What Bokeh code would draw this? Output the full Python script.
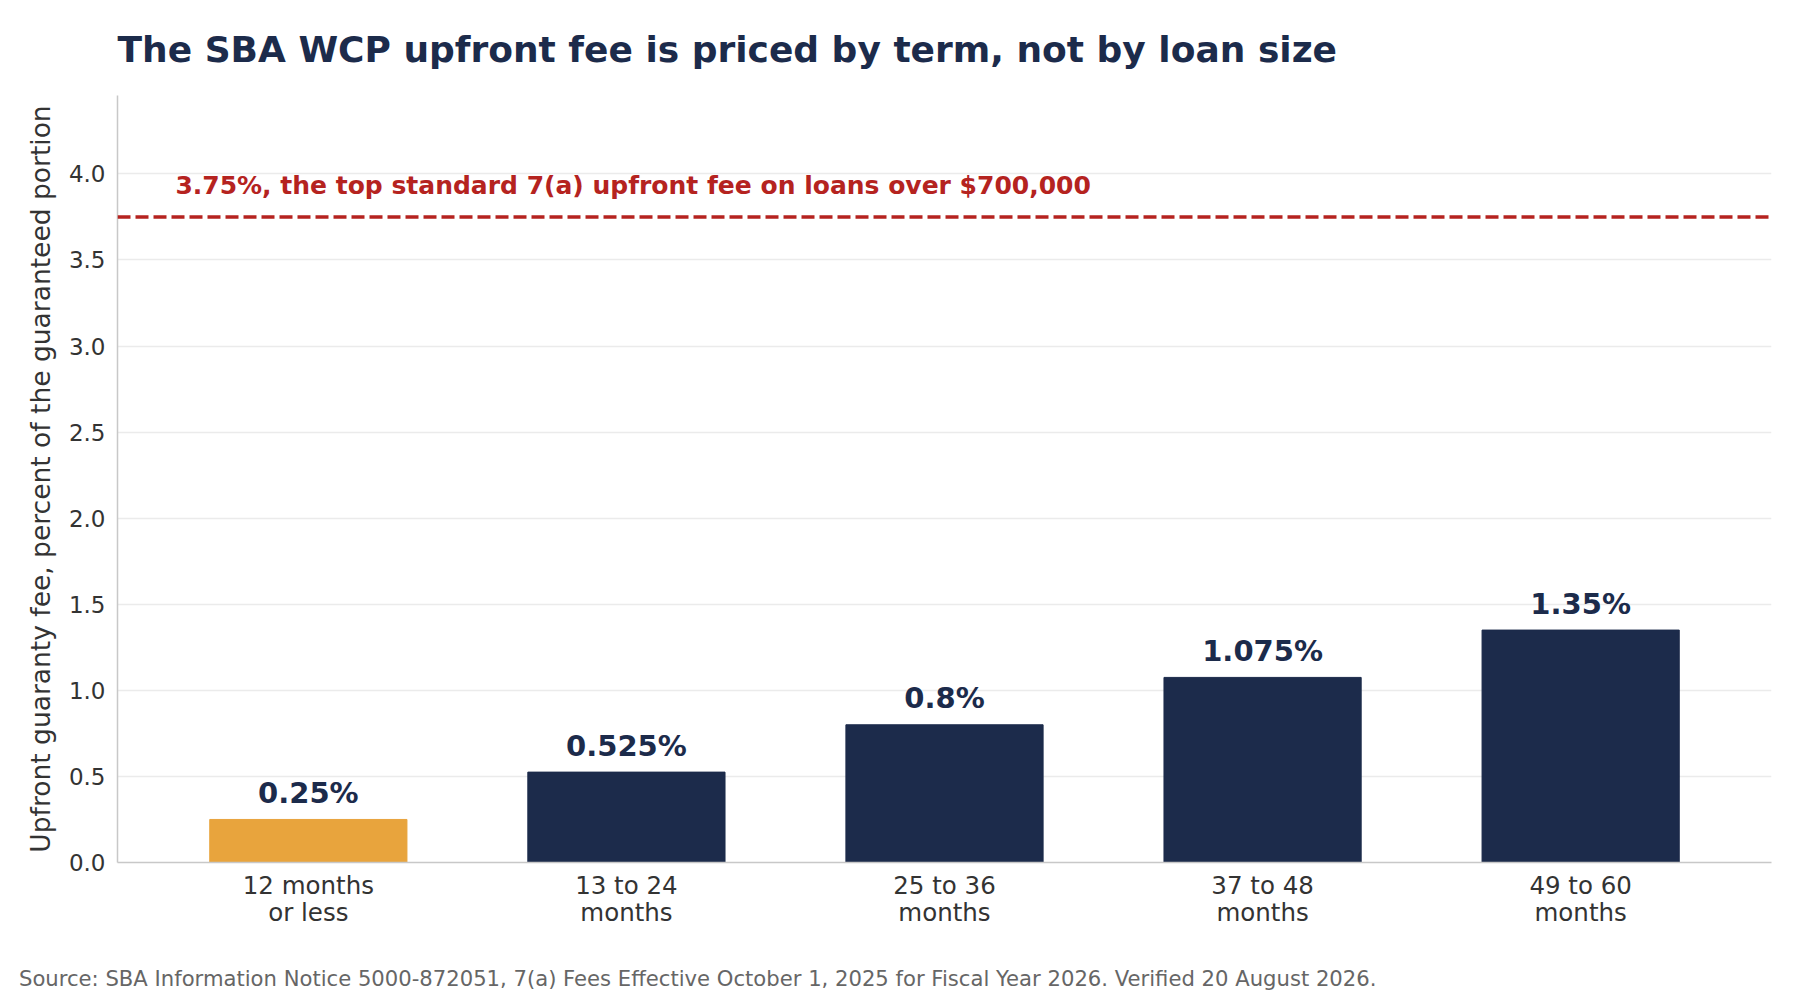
from bokeh.plotting import figure
from bokeh.layouts import column
from bokeh.models import ColumnDataSource, FixedTicker, Span, Label, Range1d, NumeralTickFormatter, Div
from bokeh.embed import file_html
from bokeh.resources import INLINE
from bokeh.core.properties import value

# ---- data ----
categories = ["12 months\nor less", "13 to 24\nmonths", "25 to 36\nmonths", "37 to 48\nmonths", "49 to 60\nmonths"]
fees = [0.25, 0.525, 0.8, 1.075, 1.35]
highlight_index = 0
ref_value = 3.75
ref_text = "3.75%, the top standard 7(a) upfront fee on loans over $700,000"
title_text = "The SBA WCP upfront fee is priced by term, not by loan size"
y_label = "Upfront guaranty fee, percent of the guaranteed portion"
source_text = ("Source: SBA Information Notice 5000-872051, 7(a) Fees Effective October 1, 2025 "
               "for Fiscal Year 2026. Verified 20 August 2026.")
y_ticks = [0.0, 0.5, 1.0, 1.5, 2.0, 2.5, 3.0, 3.5, 4.0]

NAVY = "#1c2b4b"
ORANGE = "#e8a43d"
RED = "#b5231f"
FONT = "DejaVu Sans"

xs = list(range(len(categories)))
colors = [ORANGE if i == highlight_index else NAVY for i in xs]
labels = [f"{v:g}%" for v in fees]
src = ColumnDataSource(dict(x=xs, top=fees, color=colors, label=labels))

W, H = 1784, 930
p = figure(width=W, height=H,
           x_range=Range1d(-0.6, len(categories) - 0.4),
           y_range=Range1d(0, 4.455),
           output_backend="svg", toolbar_location=None,
           min_border_left=117, min_border_right=13,
           min_border_top=95, min_border_bottom=68)

p.title.text = title_text
p.title.text_font = FONT
p.title.text_font_size = "36px"
p.title.text_font_style = "bold"
p.title.text_color = NAVY
p.title.align = "left"
p.title.vertical_align = "middle"
p.title.text_line_height = 1.3
p.title.standoff = 50

p.outline_line_color = None
p.background_fill_color = "white"
p.border_fill_color = "white"

# grid
p.xgrid.visible = False
p.ygrid.grid_line_color = "#ebebeb"
p.ygrid.grid_line_width = 1.5

# y axis
p.yaxis.ticker = FixedTicker(ticks=y_ticks)
p.yaxis.formatter = NumeralTickFormatter(format="0.0")
p.yaxis.axis_label = y_label
p.yaxis.axis_label_text_font = FONT
p.yaxis.axis_label_text_font_size = "26.5px"
p.yaxis.axis_label_text_font_style = "normal"
p.yaxis.axis_label_text_color = "#333333"
p.yaxis.axis_label_standoff = 10
p.yaxis.major_label_standoff = 12
p.yaxis.major_label_text_font_size = "23px"

# x axis
p.xaxis.ticker = FixedTicker(ticks=xs)
p.xaxis.major_label_overrides = {i: c for i, c in zip(xs, categories)}
p.xaxis.major_label_standoff = 8
p.xaxis.major_label_text_font_size = "24.5px"
p.xaxis.major_label_text_line_height = 0.94

for ax in (p.xaxis, p.yaxis):
    ax.major_label_text_font = FONT
    ax.major_label_text_color = "#333333"
    ax.major_tick_line_color = None
    ax.minor_tick_line_color = None
    ax.major_tick_in = 0
    ax.major_tick_out = 0
    ax.minor_tick_in = 0
    ax.minor_tick_out = 0
    ax.axis_line_color = "#c8c8c8"
    ax.axis_line_width = 1.5

# bars
p.vbar(x="x", top="top", width=0.62, fill_color="color", line_color="color", source=src)

# value labels
p.text(x="x", y="top", text="label", source=src,
       text_font=value(FONT), text_font_size="29px", text_font_style="bold",
       text_color=NAVY, text_align="center", text_baseline="alphabetic", y_offset=-26.5)

# reference line
p.add_layout(Span(location=ref_value, dimension="width", line_color=RED,
                  line_width=3.5, line_dash="13 5"))
p.add_layout(Label(x=-0.418, y=ref_value + 0.184, text=ref_text,
                   text_font=FONT, text_font_size="25px", text_font_style="bold",
                   text_color=RED, text_align="left", text_baseline="alphabetic"))

# footer
footer = Div(text=source_text, width=W - 19, height=18, margin=(36, 0, 0, 19),
             styles={"font-family": "DejaVu Sans", "font-size": "21.15px", "color": "#666666",
                     "white-space": "nowrap", "line-height": "normal"})

layout = column(p, footer, spacing=0)

open("out.html", "w").write(file_html(layout, INLINE))
